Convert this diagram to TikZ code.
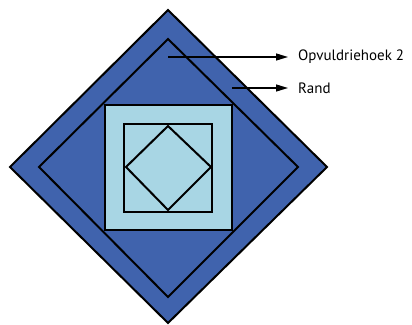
\documentclass[tikz,border=0pt]{standalone}
\usepackage{fontspec}
\setmainfont{PT Sans}
\usepackage{xcolor}
\usetikzlibrary{arrows.meta,positioning}
\definecolor{darkfill}{RGB}{64,99,173}
\definecolor{lightfill}{RGB}{168,214,228}

\begin{document}
\begin{tikzpicture}[x=1pt,y=-1pt,>={Triangle[length=12pt,width=7pt]}]
\tikzstyle{edge}=[draw=black,line width=2pt,line join=miter]
\tikzstyle{lbl}=[anchor=west,inner sep=0pt,font=\fontsize{15}{17}\selectfont]
\useasboundingbox (0,0) rectangle (412,324);
% outer diamond (rand)
\draw[edge,fill=darkfill] (168,10) -- (327,167) -- (168,323) -- (10,167) -- cycle;
% inner diamond
\draw[edge,fill=darkfill] (168,39) -- (298,167) -- (168,297) -- (39,167) -- cycle;
% squares
\draw[edge,fill=lightfill] (105,105) rectangle (232,230);
\draw[edge,fill=lightfill] (124,124) rectangle (212,212);
\draw[edge,fill=lightfill] (168,126) -- (211,167) -- (168,210) -- (126,167) -- cycle;
% labels
\node[lbl] (opv) at (298,57) {Opvuldriehoek 2};
\node[lbl] (rand) at (298,88) {Rand};
\coordinate (p1) at (168,57);
\coordinate (p2) at (232,88);
\draw[->,line width=1.3pt] (p1) -- ([xshift=-10pt]opv.west);
\draw[->,line width=1.3pt] (p2) -- ([xshift=-10pt]rand.west);
\end{tikzpicture}
\end{document}
